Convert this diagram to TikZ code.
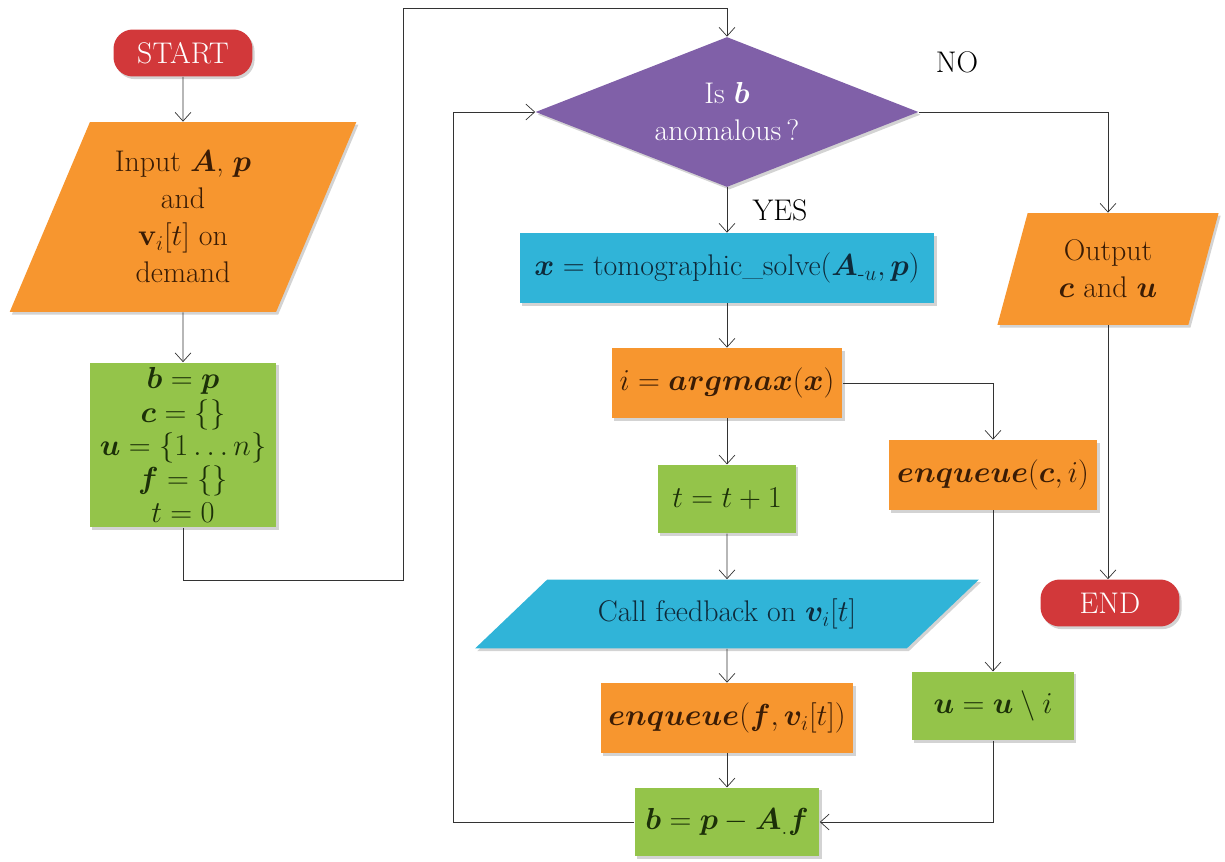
\documentclass[tikz,border=0pt]{standalone}
\usepackage{amsmath,bm}
\usetikzlibrary{arrows.meta,positioning,shapes.geometric,shadows}
\definecolor{Oc}{HTML}{F7962F}
\definecolor{Gc}{HTML}{94C44A}
\definecolor{Bc}{HTML}{30B4D8}
\definecolor{Pc}{HTML}{8060A8}
\definecolor{Rc}{HTML}{D2383A}
\definecolor{Ot}{HTML}{3A1C05}
\definecolor{Gt}{HTML}{1C3008}
\definecolor{Bt}{HTML}{0E2A3A}
\tikzset{
  base/.style={inner sep=2pt, align=center, font=\fontsize{17}{21}\selectfont,
    drop shadow={opacity=0.35, shadow xshift=1.2pt, shadow yshift=-1.5pt}},
  term/.style={base, rectangle, rounded corners=11pt, fill=Rc, text=white,
    minimum width=2.78cm, minimum height=0.94cm},
  obox/.style={base, rectangle, fill=Oc, text=Ot, minimum height=1.4cm},
  gbox/.style={base, rectangle, fill=Gc, text=Gt, minimum height=1.37cm},
  bbox/.style={base, rectangle, fill=Bc, text=Bt, minimum height=1.4cm},
  io/.style={base, trapezium, trapezium stretches=true},
  dec/.style={base, diamond, fill=Pc, text=white, aspect=2.5, inner sep=0pt,
    minimum width=7.66cm, minimum height=3cm},
  lbl/.style={font=\fontsize{17}{21}\selectfont},
  link/.style={-{Straight Barb[length=5pt,width=9pt]}, thin, draw=black!80},
}

\begin{document}
\begin{tikzpicture}[x=0.02cm, y=-0.02cm]
  \useasboundingbox (0,0) rectangle (1225,862);
  % left column
  \node[term] (start) at (183,53) {START};
  \node[io, fill=Oc, text=Ot, trapezium left angle=66, trapezium right angle=114,
    minimum width=6.94cm, minimum height=3.8cm] (input) at (183,217)
    {Input $\bm{A}$, $\bm{p}$\\and\\$\mathbf{v}_i[t]$ on\\demand};
  \node[gbox, minimum width=3.74cm, minimum height=3.3cm,
    font=\fontsize{17}{19}\selectfont] (init) at (183,445)
    {$\bm{b} = \bm{p}$\\$\bm{c} = \{\}$\\$\bm{u} = \{1\ldots n\}$\\$\bm{f} = \{\}$\\$t = 0$};
  % middle column
  \node[dec] (dec) at (727,112) {Is $\bm{b}$\\anomalous\,?};
  \node[bbox, minimum width=8.3cm] (solve) at (727,268)
    {$\bm{x} = \text{tomographic\_solve}(\bm{A}_{\text{-}u},\bm{p})$};
  \node[obox, minimum width=4.62cm] (argmax) at (727,383) {$i = \bm{argmax}(\bm{x})$};
  \node[gbox, minimum width=2.76cm] (tinc) at (727,499) {$t = t + 1$};
  \node[io, fill=Bc, text=Bt, trapezium left angle=35, trapezium right angle=145,
    minimum width=10.1cm, minimum height=1.38cm] (call) at (727,614)
    {Call feedback on $\bm{v}_i[t]$};
  \node[obox, minimum width=5.06cm] (enqf) at (727,718) {$\bm{enqueue}(\bm{f},\bm{v}_i[t])$};
  \node[gbox, minimum width=3.7cm] (bupd) at (727,822) {$\bm{b} = \bm{p} - \bm{A}_{.}\bm{f}$};
  % right column
  \node[obox, minimum width=4.18cm] (enqc) at (993,475) {$\bm{enqueue}(\bm{c},i)$};
  \node[gbox, minimum width=3.24cm] (uupd) at (993,706) {$\bm{u} = \bm{u} \setminus i$};
  \node[io, fill=Oc, text=Ot, trapezium left angle=73, trapezium right angle=107,
    minimum width=4.46cm, minimum height=2.24cm] (out) at (1108,269)
    {Output\\$\bm{c}$ and $\bm{u}$};
  \node[term] (finish) at (1110,603) {END};
  \node[lbl] (no) at (957,62) {NO};
  \node[lbl] (yes) at (780,210) {YES};
  % connectors
  \coordinate (c1) at (403,580);
  \coordinate (c2) at (403,8);
  \coordinate (lp) at (453,822);
  \draw[link] (start) -- (input);
  \draw[link] (input) -- (init);
  \draw[link] (init.south) |- (c1) -- (c2) -| (dec.north);
  \draw[link] (dec.south) -- (solve);
  \draw[link] (solve) -- (argmax);
  \draw[link] (argmax) -- (tinc);
  \draw[link] (argmax.east) -| (enqc.north);
  \draw[link] (tinc) -- (call);
  \draw[link] (call) -- (enqf);
  \draw[link] (enqf) -- (bupd);
  \draw[link] (enqc) -- (uupd);
  \draw[link] (uupd.south) |- (bupd.east);
  \draw[link] (bupd.west) -- (lp) |- (dec.west);
  \draw[link] (dec.east) -| (out.north);
  \draw[link] (out.south) -- (out.south |- finish.north);
\end{tikzpicture}
\end{document}
